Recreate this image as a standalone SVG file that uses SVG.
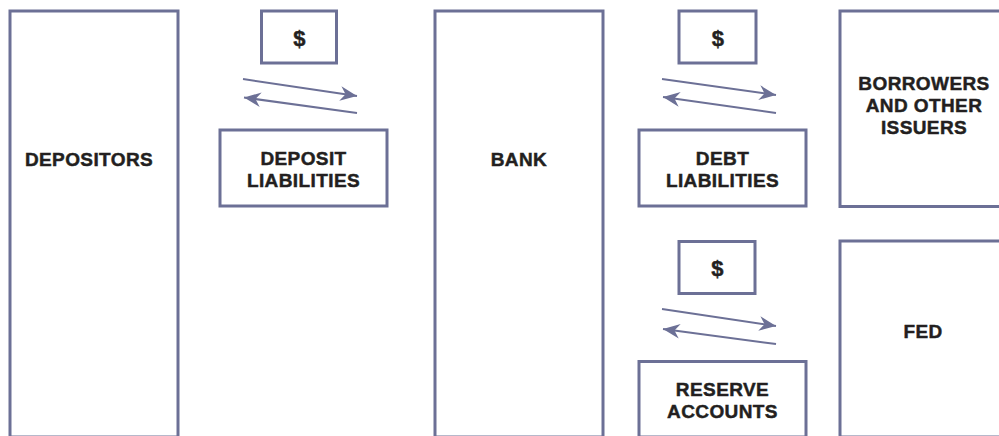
<svg xmlns="http://www.w3.org/2000/svg" width="999" height="436" viewBox="0 0 999 436">
  <style>
    .box { fill: #ffffff; stroke: #6c7096; stroke-width: 3; }
    .lbl { font-family: "Liberation Sans", Arial, sans-serif; font-weight: bold; font-size: 19px; fill: #231f20; stroke: #231f20; stroke-width: 0.45px; text-anchor: middle; letter-spacing: 0.4px; }
    .usd { font-size: 22px; }
    .flow { stroke: #6c7096; stroke-width: 2; fill: none; marker-end: url(#ah); }
  </style>
  <defs>
    <marker id="ah" markerUnits="userSpaceOnUse" markerWidth="20" markerHeight="20" viewBox="-17 -8 19 16" refX="0" refY="0" orient="auto">
      <path d="M0,0 L-16,-7 L-11,0 L-16,7 Z" fill="#6c7096"/>
    </marker>
  </defs>
  <rect width="999" height="436" fill="#ffffff"/>

  <g id="depositors">
    <rect class="box" x="10" y="11" width="168" height="426"/>
    <text class="lbl" x="89" y="166">DEPOSITORS</text>
  </g>
  <g id="dollar1">
    <rect class="box" x="261.5" y="11" width="75" height="52"/>
    <text class="lbl usd" x="299.5" y="45.5">$</text>
  </g>
  <g id="deposit-liabilities">
    <rect class="box" x="220" y="130" width="167" height="76"/>
    <text class="lbl" x="303.5" y="165">DEPOSIT</text>
    <text class="lbl" x="303.5" y="187">LIABILITIES</text>
  </g>
  <g id="bank">
    <rect class="box" x="435" y="11" width="168" height="426"/>
    <text class="lbl" x="519" y="166">BANK</text>
  </g>
  <g id="dollar2">
    <rect class="box" x="679" y="11" width="77" height="52"/>
    <text class="lbl usd" x="718" y="45.5">$</text>
  </g>
  <g id="debt-liabilities">
    <rect class="box" x="639" y="130" width="167" height="76"/>
    <text class="lbl" x="722.5" y="165">DEBT</text>
    <text class="lbl" x="722.5" y="187">LIABILITIES</text>
  </g>
  <g id="dollar3">
    <rect class="box" x="679" y="241.5" width="76" height="52"/>
    <text class="lbl usd" x="717.5" y="276">$</text>
  </g>
  <g id="reserve-accounts">
    <rect class="box" x="639" y="361.5" width="167" height="75.5"/>
    <text class="lbl" x="722.5" y="396">RESERVE</text>
    <text class="lbl" x="722.5" y="418">ACCOUNTS</text>
  </g>
  <g id="borrowers">
    <rect class="box" x="840" y="11" width="170" height="195.5"/>
    <text class="lbl" x="924" y="90">BORROWERS</text>
    <text class="lbl" x="924" y="112">AND OTHER</text>
    <text class="lbl" x="924" y="134">ISSUERS</text>
  </g>
  <g id="fed">
    <rect class="box" x="840" y="241" width="170" height="196"/>
    <text class="lbl" x="923" y="338">FED</text>
  </g>

  <g id="connectors">
    <line class="flow" x1="243" y1="79" x2="357" y2="96"/>
    <line class="flow" x1="357" y1="113" x2="244" y2="97.5"/>
    <line class="flow" x1="662" y1="79" x2="776" y2="95"/>
    <line class="flow" x1="776" y1="113" x2="663" y2="97"/>
    <line class="flow" x1="662" y1="309" x2="776" y2="326"/>
    <line class="flow" x1="776" y1="344" x2="663" y2="329"/>
  </g>
</svg>
